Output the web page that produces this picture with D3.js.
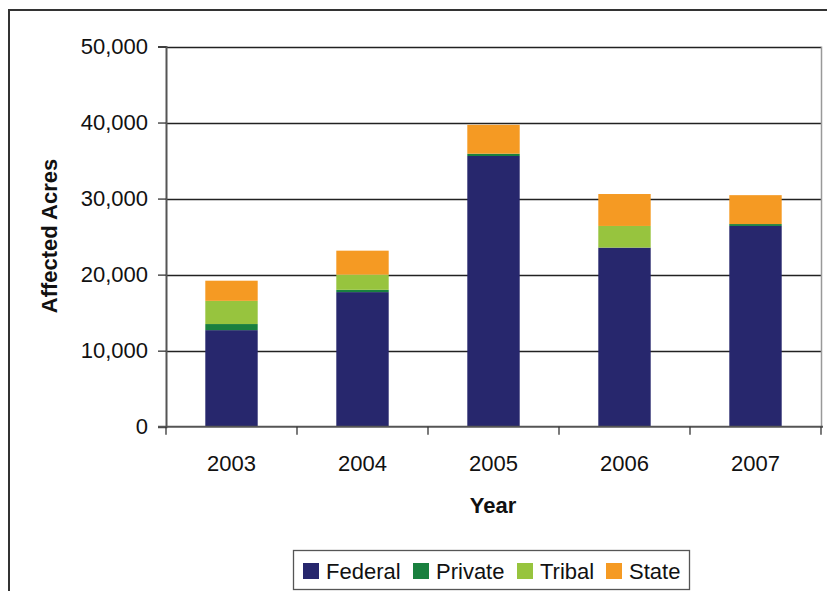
<!DOCTYPE html>
<html>
<head>
<meta charset="utf-8">
<script src="https://cdn.jsdelivr.net/npm/d3@7"></script>
<style>
  html, body { margin: 0; padding: 0; background: #fff; }
  svg { display: block; font-family: "Liberation Sans", Arial, sans-serif; }
</style>
</head>
<body>
<svg id="chart" width="827" height="591"></svg>
<script>
// Affected acres by land ownership, 2003–2007
const years = ["2003", "2004", "2005", "2006", "2007"];
const federal = [12700, 17700, 35600, 23550, 26400];
const privateLand = [800, 300, 300, 0, 250];
const tribal = [3050, 2000, 0, 2850, 0];
const state = [2650, 3150, 3800, 4200, 3800];
const seriesNames = ["Federal", "Private", "Tribal", "State"];
const seriesColors = ["#27276d", "#19803f", "#97c43e", "#f59a23"];
const yTicks = [0, 10000, 20000, 30000, 40000, 50000];

const rows = years.map((y, i) => ({
  year: y,
  Federal: federal[i],
  Private: privateLand[i],
  Tribal: tribal[i],
  State: state[i]
}));

const svg = d3.select("#chart");
const plot = { left: 166, right: 821, top: 46.5, bottom: 426.7 };

// outer frame (top and left edges visible)
svg.append("path")
  .attr("d", `M9,591 V10 H827`)
  .attr("fill", "none")
  .attr("stroke", "#333")
  .attr("stroke-width", 2);

const x = d3.scaleBand().domain(years).range([plot.left, plot.right]).paddingInner(0.6).paddingOuter(0.3);
const xOuter = d3.scaleBand().domain(years).range([plot.left, plot.right]);
const y = d3.scaleLinear().domain([0, 50000]).range([plot.bottom, plot.top]);

// gridlines
svg.append("g").selectAll("line")
  .data(yTicks.filter(t => t > 0))
  .join("line")
  .attr("x1", plot.left).attr("x2", plot.right)
  .attr("y1", d => Math.round(y(d)) + 0.5).attr("y2", d => Math.round(y(d)) + 0.5)
  .attr("stroke", "#222").attr("stroke-width", 1.3);

// right border of plot area
svg.append("line")
  .attr("x1", plot.right + 0.5).attr("x2", plot.right + 0.5)
  .attr("y1", y(50000)).attr("y2", plot.bottom)
  .attr("stroke", "#999").attr("stroke-width", 1.5);

// stacked bars
const stack = d3.stack().keys(seriesNames);
const layers = stack(rows);
svg.append("g").selectAll("g")
  .data(layers)
  .join("g")
  .attr("fill", (d, i) => seriesColors[i])
  .selectAll("rect")
  .data(d => d)
  .join("rect")
  .attr("x", d => x(d.data.year))
  .attr("width", x.bandwidth())
  .attr("y", d => y(d[1]))
  .attr("height", d => y(d[0]) - y(d[1]));

// y axis
const yAxis = svg.append("g")
  .attr("transform", `translate(${plot.left},0)`)
  .call(d3.axisLeft(y).tickValues(yTicks).tickFormat(d3.format(",")).tickSize(8).tickPadding(10));
yAxis.select(".domain").attr("stroke", "#555").attr("stroke-width", 2);
yAxis.selectAll(".tick line").attr("stroke", "#333").attr("stroke-width", 1.3);
yAxis.selectAll("text").attr("font-size", 22).attr("fill", "#111")
  .attr("font-family", "'Liberation Sans', Arial, sans-serif");

// x axis with ticks between categories
const xAxisG = svg.append("g").attr("transform", `translate(0,${plot.bottom})`);
xAxisG.append("line")
  .attr("x1", plot.left - 8).attr("x2", plot.right + 2)
  .attr("y1", 0).attr("y2", 0)
  .attr("stroke", "#555").attr("stroke-width", 2);
const boundaries = years.map(d => xOuter(d)).concat([plot.right]);
xAxisG.selectAll(".xt")
  .data(boundaries)
  .join("line")
  .attr("class", "xt")
  .attr("x1", d => d).attr("x2", d => d)
  .attr("y1", 0).attr("y2", 8)
  .attr("stroke", "#333").attr("stroke-width", 1.3);
xAxisG.selectAll("text")
  .data(years)
  .join("text")
  .attr("x", d => xOuter(d) + xOuter.bandwidth() / 2)
  .attr("y", 44)
  .attr("text-anchor", "middle")
  .attr("font-size", 22)
  .attr("fill", "#111")
  .text(d => d);

// axis titles
svg.append("text")
  .attr("transform", "translate(57,236) rotate(-90)")
  .attr("text-anchor", "middle")
  .attr("font-size", 22)
  .attr("font-weight", "bold")
  .attr("fill", "#111")
  .text("Affected Acres");

svg.append("text")
  .attr("x", 493).attr("y", 513)
  .attr("text-anchor", "middle")
  .attr("font-size", 22)
  .attr("font-weight", "bold")
  .attr("fill", "#111")
  .text("Year");

// legend
const legend = svg.append("g");
legend.append("rect")
  .attr("x", 293.5).attr("y", 550.5)
  .attr("width", 396).attr("height", 39)
  .attr("fill", "#fff").attr("stroke", "#555").attr("stroke-width", 1.3);
const legendX = [303, 413, 517, 606];
const items = legend.selectAll(".item")
  .data(seriesNames)
  .join("g")
  .attr("class", "item")
  .attr("transform", (d, i) => `translate(${legendX[i]},563)`);
items.append("rect")
  .attr("width", 16).attr("height", 16)
  .attr("fill", (d, i) => seriesColors[i]);
items.append("text")
  .attr("x", 23).attr("y", 16)
  .attr("font-size", 22)
  .attr("fill", "#111")
  .text(d => d);
</script>
</body>
</html>
